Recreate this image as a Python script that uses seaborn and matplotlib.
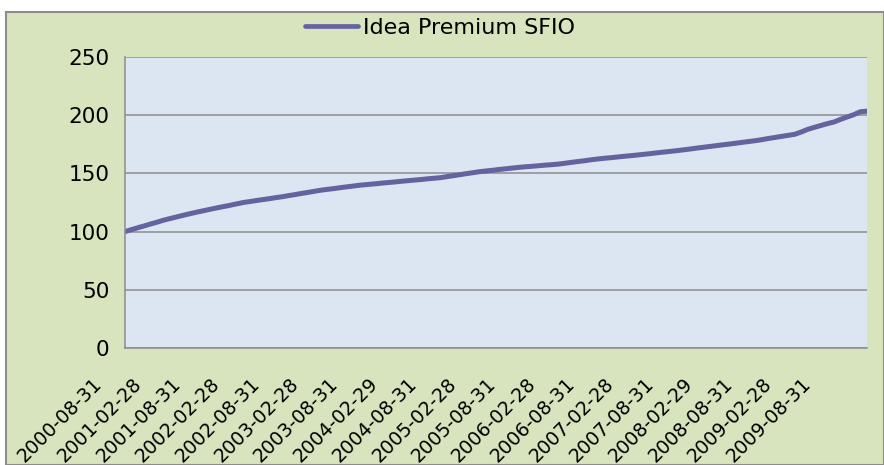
import numpy as np
import pandas as pd
import matplotlib
matplotlib.use("Agg")
import matplotlib.pyplot as plt
import matplotlib.transforms as mtransforms
from matplotlib.patches import Rectangle
from matplotlib.lines import Line2D
import seaborn as sns

series_name = "Idea Premium SFIO"
start_date = "2000-08-31"
values = [
    100, 101.7, 103.4, 105, 106.7, 108.3, 110,
    111.4, 112.8, 114.2, 115.5, 116.8, 118,
    119.2, 120.4, 121.5, 122.6, 123.8, 125,
    125.8, 126.7, 127.5, 128.3, 129.2, 130,
    131, 131.9, 132.9, 133.8, 134.8, 135.7,
    136.4, 137.1, 137.9, 138.6, 139.3, 140,
    140.5, 141, 141.6, 142.1, 142.6, 143.2,
    143.7, 144.2, 144.7, 145.3, 145.8, 146.3,
    147.2, 148, 148.9, 149.8, 150.6, 151.5,
    152.1, 152.7, 153.4, 154, 154.6, 155.2,
    155.7, 156.1, 156.6, 157.1, 157.5, 158,
    158.7, 159.5, 160.2, 160.9, 161.7, 162.4,
    163, 163.5, 164.1, 164.7, 165.2, 165.8,
    166.4, 167, 167.7, 168.3, 168.9, 169.5,
    170.2, 170.9, 171.7, 172.4, 173.1, 173.8,
    174.5, 175.2, 175.9, 176.7, 177.4, 178.1,
    179, 180, 180.9, 181.8, 182.7, 183.6,
    185.6, 187.9, 189.6, 191.2, 192.8, 194.2,
    196.5, 198.5, 200.5, 203, 203.5,
]
dates = pd.date_range(start_date, periods=len(values), freq="ME")
label_step = 6
y_ticks = [0, 50, 100, 150, 200, 250]

df = pd.DataFrame({"idx": np.arange(len(values)), "value": values,
                   "series": series_name})

sns.set_theme(style="white")
plt.rcParams["font.family"] = ["DejaVu Sans"]
plt.rcParams["text.color"] = "black"

fig = plt.figure(figsize=(8.84, 4.65), dpi=100)
fig.patch.set_facecolor("white")
# outer chart area
bg = Rectangle((6 / 884, 0), 1 - 6 / 884, (465 - 12) / 465,
               transform=fig.transFigure, facecolor="#d7e4bd",
               edgecolor="#8c8c8c", linewidth=1.5, zorder=-10)
fig.patches.append(bg)

ax = fig.add_axes([125 / 884, (465 - 348) / 465, (867 - 125) / 884, (348 - 57) / 465])
ax.set_zorder(5)
ax.set_facecolor("#dce6f2")

line_color = "#64629f"
sns.lineplot(data=df, x="idx", y="value", hue="series", palette=[line_color],
             linewidth=3.6, ax=ax, legend=False)

ax.set_xlim(0, len(values) - 1)
ax.set_ylim(0, 250)
ax.set_yticks(y_ticks)
ax.set_yticklabels([str(v) for v in y_ticks], fontsize=15.5)
ax.yaxis.grid(True, color="#8c8c8c", linewidth=1.1)
ax.xaxis.grid(False)
ax.set_axisbelow(True)

ax.tick_params(axis="both", which="both", direction="out", length=5,
               width=1, color="#8c8c8c", labelcolor="black")
ax.tick_params(axis="y", pad=6)

tick_pos = list(range(0, len(values), label_step))
ax.set_xticks(tick_pos)
ax.set_xticklabels([dates[i].strftime("%Y-%m-%d") for i in tick_pos],
                   fontsize=13.8, rotation=45, ha="right", va="center",
                   rotation_mode="anchor")
offset = mtransforms.ScaledTranslation(-0.26, -0.21, fig.dpi_scale_trans)
for tick in ax.xaxis.get_major_ticks():
    tick.label1.set_transform(tick.label1.get_transform() + offset)

for side in ["top", "right"]:
    ax.spines[side].set_visible(False)
for side in ["left", "bottom"]:
    ax.spines[side].set_color("#8c8c8c")
    ax.spines[side].set_linewidth(1.1)
ax.set_xlabel("")
ax.set_ylabel("")

# legend
handle = Line2D([0], [0], color=line_color, linewidth=3.4)
leg = fig.legend([handle], [series_name], loc="center",
                 bbox_to_anchor=(440 / 884, 1 - 28 / 465),
                 frameon=False, fontsize=16, handlelength=2.4, handletextpad=0.2)
for t in leg.get_texts():
    t.set_color("black")

fig.savefig("out.png", dpi=100)
